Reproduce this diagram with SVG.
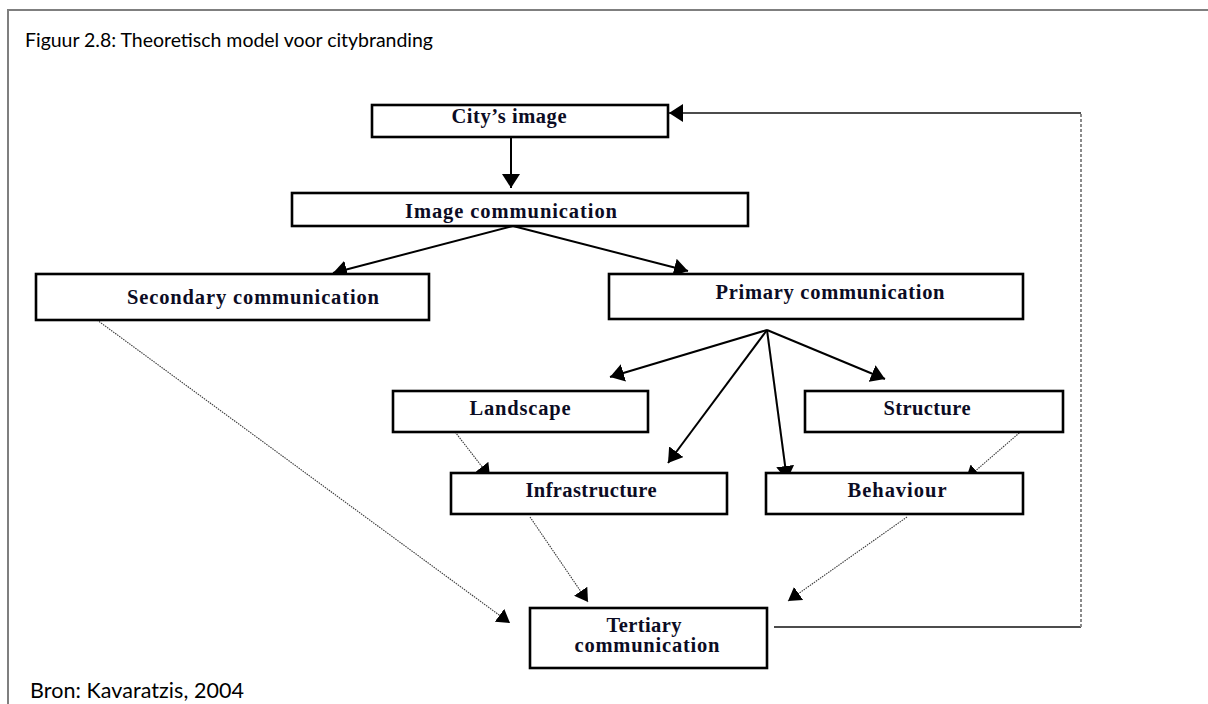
<svg xmlns="http://www.w3.org/2000/svg" width="1208" height="704" viewBox="0 0 1208 704">
  <style>
    .box { fill: #ffffff; stroke: #000000; stroke-width: 2.6; }
    .lbl { font-family: "Liberation Serif", "Times New Roman", serif; font-weight: bold; font-size: 20.5px; fill: #0c0c24; text-anchor: middle; }
    .cap { font-family: Lato, "Open Sans", "Liberation Sans", sans-serif; fill: #000000; }
    .solid { fill: none; stroke: #000000; stroke-width: 2; }
    .dot { fill: none; stroke: #3a3a3a; stroke-width: 1.1; stroke-dasharray: 1.5 1; }
    .thin { fill: none; stroke: #111111; stroke-width: 1.3; }
    .dash { fill: none; stroke: #8a8a8a; stroke-width: 2; stroke-dasharray: 3 2; }
  </style>
  <defs>
    <marker id="ah" viewBox="0 0 14 18" refX="14" refY="9" markerWidth="14" markerHeight="18" orient="auto" markerUnits="userSpaceOnUse">
      <path d="M0,0 L14,9 L0,18 Z" fill="#000000"/>
    </marker>
    <marker id="ahs" viewBox="0 0 13 16" refX="13" refY="8" markerWidth="13" markerHeight="16" orient="auto" markerUnits="userSpaceOnUse">
      <path d="M0,0 L13,8 L0,16 Z" fill="#000000"/>
    </marker>
  </defs>
  <rect width="1208" height="704" fill="#ffffff"/>
  <path d="M8,704 L8,10 L1208,10" fill="none" stroke="#7f7f7f" stroke-width="2"/>
  <text class="cap" x="25" y="47" font-size="19.5" textLength="408" lengthAdjust="spacing">Figuur 2.8: Theoretisch model voor citybranding</text>
  <text class="cap" x="30" y="698" font-size="21.5" textLength="214" lengthAdjust="spacing">Bron: Kavaratzis, 2004</text>

  <g id="connectors">
    <line class="solid" x1="511" y1="137" x2="511" y2="188" marker-end="url(#ah)"/>
    <line class="solid" x1="513" y1="226" x2="333" y2="273" marker-end="url(#ah)"/>
    <line class="solid" x1="513" y1="226" x2="688" y2="271" marker-end="url(#ah)"/>
    <line class="solid" x1="767" y1="330" x2="610" y2="377" marker-end="url(#ah)"/>
    <line class="solid" x1="767" y1="330" x2="885" y2="379" marker-end="url(#ah)"/>
    <line class="solid" x1="767" y1="330" x2="668" y2="463" marker-end="url(#ah)"/>
    <line class="solid" x1="767" y1="330" x2="787" y2="480" marker-end="url(#ah)"/>
    <line class="dot" x1="97" y1="320" x2="510" y2="623" marker-end="url(#ahs)"/>
    <line class="dot" x1="452" y1="428" x2="490" y2="477" marker-end="url(#ahs)"/>
    <line class="dot" x1="1025" y1="428" x2="966" y2="479" marker-end="url(#ahs)"/>
    <line class="dot" x1="530" y1="517" x2="588" y2="602" marker-end="url(#ahs)"/>
    <line class="dot" x1="907" y1="517" x2="788" y2="601" marker-end="url(#ahs)"/>
    <line class="thin" x1="774" y1="627" x2="1081" y2="627"/>
    <line class="dash" x1="1081" y1="627" x2="1081" y2="113"/>
    <line class="thin" x1="1081" y1="113" x2="669" y2="113" marker-end="url(#ah)"/>
  </g>

  <g id="city-image">
    <rect class="box" x="372" y="105" width="296" height="32"/>
    <text class="lbl" x="509" y="123" textLength="115" lengthAdjust="spacing">City’s image</text>
  </g>
  <g id="image-communication">
    <rect class="box" x="292" y="193" width="456" height="33"/>
    <text class="lbl" x="511" y="218" textLength="212" lengthAdjust="spacing">Image communication</text>
  </g>
  <g id="secondary-communication">
    <rect class="box" x="36" y="274" width="393" height="46"/>
    <text class="lbl" x="253" y="304" textLength="252" lengthAdjust="spacing">Secondary communication</text>
  </g>
  <g id="primary-communication">
    <rect class="box" x="609" y="274" width="414" height="45"/>
    <text class="lbl" x="830" y="299" textLength="229" lengthAdjust="spacing">Primary communication</text>
  </g>
  <g id="landscape">
    <rect class="box" x="393" y="391" width="255" height="41"/>
    <text class="lbl" x="520" y="415" textLength="101" lengthAdjust="spacing">Landscape</text>
  </g>
  <g id="structure">
    <rect class="box" x="805" y="391" width="258" height="41"/>
    <text class="lbl" x="927" y="415" textLength="87" lengthAdjust="spacing">Structure</text>
  </g>
  <g id="infrastructure">
    <rect class="box" x="451" y="473" width="276" height="41"/>
    <text class="lbl" x="591" y="497" textLength="131" lengthAdjust="spacing">Infrastructure</text>
  </g>
  <g id="behaviour">
    <rect class="box" x="766" y="473" width="257" height="41"/>
    <text class="lbl" x="897" y="497" textLength="99" lengthAdjust="spacing">Behaviour</text>
  </g>
  <g id="tertiary-communication">
    <rect class="box" x="530" y="608" width="237" height="60"/>
    <text class="lbl" x="644" y="632" textLength="75" lengthAdjust="spacing">Tertiary</text>
    <text class="lbl" x="647" y="652" textLength="145" lengthAdjust="spacing">communication</text>
  </g>
</svg>
